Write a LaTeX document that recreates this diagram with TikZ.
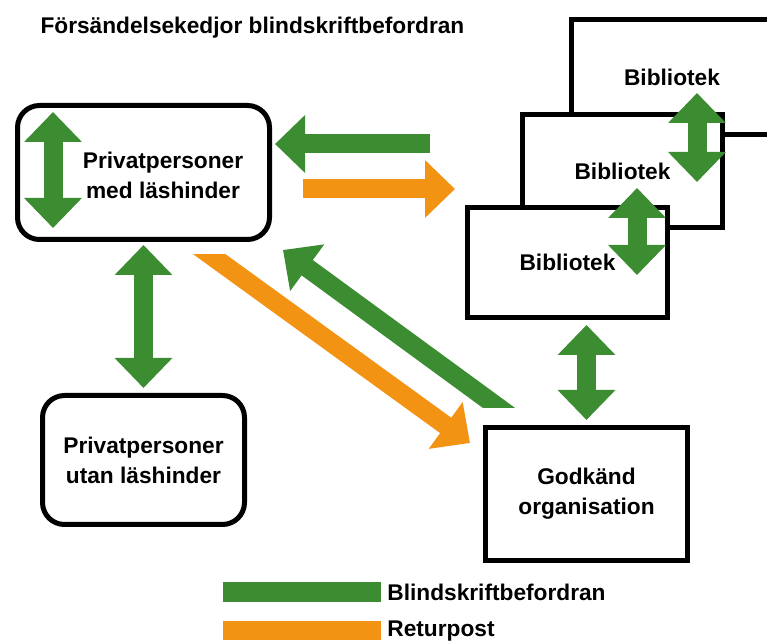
\documentclass[tikz,border=0pt]{standalone}
\usepackage{fontspec}
\setmainfont{Liberation Sans}
\usetikzlibrary{arrows.meta,positioning}
\definecolor{bfgreen}{RGB}{60,140,50}
\definecolor{rporange}{RGB}{243,147,20}
\tikzset{
  txt/.style={font=\fontsize{22.7bp}{30bp}\selectfont\bfseries,align=center},
  rbox/.style={draw,line width=5bp,rounded corners=22bp,fill=white,txt},
  sbox/.style={draw,line width=5bp,fill=white,txt},
  fat/.style={line width=19bp,>={Triangle[width=56bp,length=30bp]}},
  blind/.style={fat,draw=bfgreen},
  retur/.style={fat,draw=rporange},
}
\begin{document}
\begin{tikzpicture}
    \useasboundingbox (0bp,0bp) rectangle (767bp,644bp);
    %%
    \node (title) at (37bp,616bp) [anchor=west,txt] {Försändelsekedjor blindskriftbefordran};
    \node (pml) at (143.5bp,471.5bp) [rbox,minimum width=252bp,minimum height=134bp] {};
    \node (pmltext) at (163bp,469bp) [txt] {Privatpersoner\\med läshinder};
    \node (pul) at (143.5bp,184bp) [rbox,minimum width=202bp,minimum height=129bp] {Privatpersoner\\utan läshinder};
    \node (lib3) at (672bp,567bp) [sbox,minimum width=201bp,minimum height=115bp] {Bibliotek};
    \node (lib2) at (622.5bp,473bp) [sbox,minimum width=200bp,minimum height=113bp] {Bibliotek};
    \node (lib1) at (567.5bp,381.5bp) [sbox,minimum width=200bp,minimum height=110bp] {Bibliotek};
    \node (godk) at (586.5bp,150bp) [sbox,minimum width=202bp,minimum height=133bp] {Godkänd\\organisation};
    %
    \coordinate (in1) at (53bp,532bp);
    \coordinate (in2) at (53bp,416bp);
    \coordinate (g1) at (430bp,500bp);
    \coordinate (o1) at (303bp,455bp);
    \coordinate (o2) at (198bp,398bp);
    \coordinate (o3) at (470bp,201bp);
    \coordinate (g2) at (510bp,228bp);
    \coordinate (g3) at (283bp,394bp);
    \coordinate (l3) at (697bp,551bp);
    \coordinate (l2a) at (697bp,462bp);
    \coordinate (l2b) at (637bp,456bp);
    \coordinate (l1) at (637bp,369bp);
    \draw [blind,<->] (in1) -- (in2);
    \draw [blind,->,shorten >=3bp] (g1) -- (pml.east |- g1);
    \draw [retur,->,shorten >=10bp] (o1) -- (lib1.west |- o1);
    \draw [blind,<->,shorten <=3bp,shorten >=5bp] (pml.south) -- (pul.north);
    \begin{scope}
      \clip (0bp,0bp) rectangle (767bp,389bp);
      \draw [retur,->] (o2) -- (o3);
    \end{scope}
    \begin{scope}
      \clip (0bp,236bp) rectangle (767bp,644bp);
      \draw [blind,->] (g2) -- (g3);
    \end{scope}
    \draw [blind,<->] (l3) -- (l2a);
    \draw [blind,<->] (l2b) -- (l1);
    \draw [blind,<->,shorten <=5bp,shorten >=5bp] (godk.north |- lib1.south) -- (godk.north);
    %
    \node (sw1) at (302bp,52bp) [fill=bfgreen,minimum width=158bp,minimum height=20bp,inner sep=0pt] {};
    \node (sw2) at (302bp,13bp) [fill=rporange,minimum width=158bp,minimum height=19bp,inner sep=0pt] {};
    \node (leg1) [right=6bp of sw1,txt,inner sep=0pt] {Blindskriftbefordran};
    \node (leg2) [right=6bp of sw2,txt,inner sep=0pt] {Returpost};
    %
\end{tikzpicture}
\end{document}
